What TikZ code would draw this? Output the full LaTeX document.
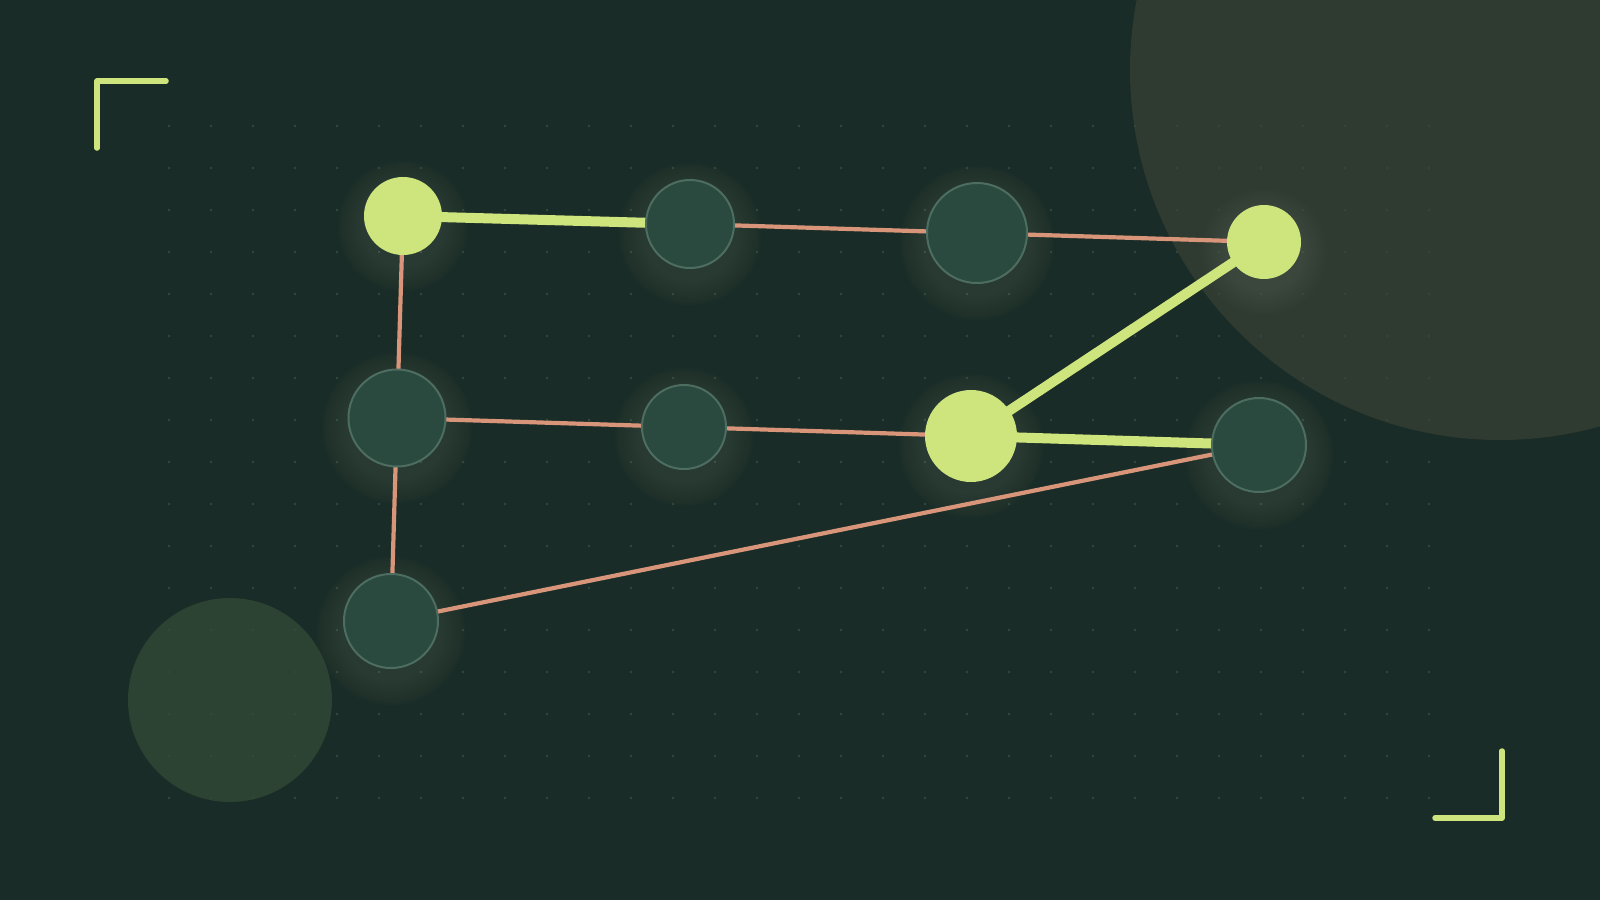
\documentclass[tikz,border=0pt]{standalone}
\usetikzlibrary{backgrounds}
\definecolor{bgc}{HTML}{1A2C27}
\definecolor{bigc}{HTML}{2F3A31}
\definecolor{smallc}{HTML}{2C4232}
\definecolor{dotc}{HTML}{31493E}
\definecolor{darkfill}{HTML}{2A4A40}
\definecolor{darkedge}{HTML}{4E6D61}
\definecolor{limec}{HTML}{CEE47D}
\definecolor{salmonc}{HTML}{D8957A}
\definecolor{glowc}{HTML}{C9D9A3}
\pgfdeclarelayer{glowlayer}
\pgfdeclarelayer{edgelayer}
\pgfsetlayers{background,glowlayer,edgelayer,main}
\tikzset{
  darknode/.style={circle, fill=darkfill, draw=darkedge, line width=2pt, inner sep=0pt},
  limenode/.style={circle, fill=limec, inner sep=0pt},
  thinedge/.style={draw=salmonc, line width=4.2pt},
  thickedge/.style={draw=limec, line width=10pt},
  bracket/.style={draw=limec, line width=5.5pt, line cap=round, line join=round},
}
\newcommand{\glowat}[3]{%
  \foreach \i in {1,...,12}{\fill[glowc, opacity=0.011] (#1,#2+10) circle ({#3+2.2*\i});}%
}
\begin{document}
\begin{tikzpicture}[x=1pt,y=-1pt]
\begin{pgfonlayer}{background}
  \fill[bgc] (0,0) rectangle (1600,900);
  \useasboundingbox (0,0) rectangle (1600,900);
  \fill[bigc] (1500,70) circle (370);
  \fill[smallc] (230,700) circle (102);
  \foreach \c in {0,...,30}{\foreach \r in {0,...,16}{\fill[dotc] (169+42*\c,126+42*\r) circle (1.4);}}
\end{pgfonlayer}
\begin{pgfonlayer}{glowlayer}
  \glowat{403}{216}{39}
  \glowat{690}{224}{45}
  \glowat{977}{233}{51}
  \glowat{1264}{242}{37}
  \glowat{397}{418}{49}
  \glowat{684}{427}{43}
  \glowat{971}{436}{46}
  \glowat{1259}{445}{48}
  \glowat{391}{621}{48}
\end{pgfonlayer}
% nodes
\node[limenode, minimum size=78pt] (a) at (403,216) {};
\node[darknode, minimum size=88pt] (b) at (690,224) {};
\node[darknode, minimum size=100pt] (c) at (977,233) {};
\node[limenode, minimum size=74pt] (d) at (1264,242) {};
\node[darknode, minimum size=97pt] (e) at (397,418) {};
\node[darknode, minimum size=84pt] (f) at (684,427) {};
\node[limenode, minimum size=92pt] (g) at (971,436) {};
\node[darknode, minimum size=94pt] (h) at (1259,445) {};
\node[darknode, minimum size=94pt] (i) at (391,621) {};
\begin{pgfonlayer}{edgelayer}
  \draw[thinedge] (b.center) -- (c.center);
  \draw[thinedge] (c.center) -- (d.center);
  \draw[thinedge] (a.center) -- (e.center);
  \draw[thinedge] (e.center) -- (f.center);
  \draw[thinedge] (f.center) -- (g.center);
  \draw[thinedge] (e.center) -- (i.center);
  \draw[thinedge] (i.center) -- (h.center);
  \draw[thickedge] (a.center) -- (b.center);
  \draw[thickedge] (g.center) -- (h.center);
  \draw[thickedge] (g.center) -- (d.center);
\end{pgfonlayer}
% corner brackets
\coordinate (tl1) at (166,81);
\coordinate (tl0) at (97,81);
\coordinate (tl2) at (97,148);
\draw[bracket] (tl1) -- (tl0) -- (tl2);
\coordinate (br1) at (1502,751);
\coordinate (br0) at (1502,818);
\coordinate (br2) at (1435,818);
\draw[bracket] (br1) -- (br0) -- (br2);
\end{tikzpicture}
\end{document}
